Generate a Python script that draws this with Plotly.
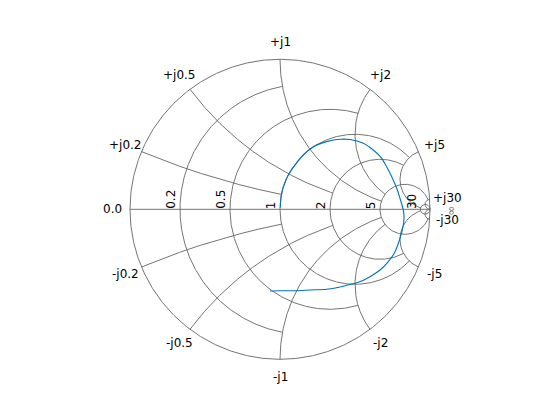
import numpy as np
import plotly.graph_objects as go

# Measured trace, as reflection coefficient (real, imaginary parts)
gamma_real = [0.002, 0.007, 0.022, 0.055, 0.100, 0.155, 0.222, 0.311, 0.400, 0.467,
              0.555, 0.622, 0.678, 0.711, 0.745, 0.778, 0.800, 0.822, 0.827, 0.818,
              0.800, 0.767, 0.722, 0.667, 0.600, 0.522, 0.467, 0.400, 0.311, 0.200,
              0.111, 0.000, -0.067]
gamma_imag = [0.012, 0.084, 0.151, 0.229, 0.295, 0.362, 0.417, 0.451, 0.467, 0.465,
              0.440, 0.395, 0.340, 0.284, 0.217, 0.140, 0.073, -0.005, -0.058, -0.127,
              -0.193, -0.283, -0.349, -0.405, -0.449, -0.487, -0.501, -0.518, -0.533, -0.538,
              -0.543, -0.543, -0.545]

# Smith chart grid values and where each circle/arc stops
grid_values = [0.2, 0.5, 1, 2, 5, 30]
grid_ends = [1, 2, 5, 5, 30, np.inf]
real_tick_labels = ["0.2", "0.5", "1", "2", "5", "30"]
pos_imag_labels = ["+j0.2", "+j0.5", "+j1", "+j2", "+j5", "+j30"]
neg_imag_labels = ["-j0.2", "-j0.5", "-j1", "-j2", "-j5", "-j30"]
zero_label = "0.0"
inf_label = "\u221e"


def z2g(z):
    return (z - 1) / (z + 1)


gx, gy = [], []


def add_seg(g):
    gx.extend(list(np.real(g)) + [None])
    gy.extend(list(np.imag(g)) + [None])


# outer circle (r = 0)
t = np.linspace(0, 2 * np.pi, 721)
add_seg(np.cos(t) + 1j * np.sin(t))
# real axis
add_seg(np.array([-1 + 0j, 1 + 0j]))

for v, e in zip(grid_values, grid_ends):
    # constant resistance circle
    ue = np.pi / 2 if np.isinf(e) else np.arctan(e)
    u = np.linspace(-ue, ue, 700)
    add_seg(z2g(v + 1j * np.tan(u)))
    # constant reactance arcs (+/-)
    u = np.linspace(0, ue, 500)
    add_seg(z2g(np.tan(u) + 1j * v))
    add_seg(z2g(np.tan(u) - 1j * v))

fig = go.Figure()
fig.add_trace(go.Scatter(x=gx, y=gy, mode="lines",
                         line=dict(color="rgb(100,100,100)", width=0.9),
                         hoverinfo="skip"))
fig.add_trace(go.Scatter(x=gamma_real, y=gamma_imag, mode="lines",
                         line=dict(color="rgb(0,114,189)", width=1.1,
                                   shape="spline", smoothing=0.7)))

font = dict(family="DejaVu Sans", size=12, color="black")
ann = []
lab_r = 1.117
for v, lp, ln in zip(grid_values, pos_imag_labels, neg_imag_labels):
    for val, txt in ((v, lp), (-v, ln)):
        g = z2g(1j * val) * lab_r
        ann.append(dict(x=g.real, y=g.imag, text=txt, showarrow=False,
                        xanchor="center", yanchor="middle", font=font))
ann.append(dict(x=-lab_r, y=0, text=zero_label, showarrow=False,
                xanchor="center", yanchor="middle", font=font))
for v, txt in zip(grid_values, real_tick_labels):
    xc = (v - 1) / (v + 1)
    ann.append(dict(x=xc, y=0, text=txt, showarrow=False, textangle=-90,
                    xanchor="right", yanchor="bottom", xshift=0, yshift=-2,
                    font=font))
ann.append(dict(x=1.14, y=-0.01, text=inf_label, showarrow=False, textangle=-90,
                xanchor="center", yanchor="middle",
                font=dict(family="DejaVu Sans", size=12, color="rgb(120,120,120)")))

# page body margin is 8 px, so the chart centre (280, 209.3) in the window
# sits at (272, 201.3) inside the figure
cx = 272.0
cy = 201.3
scale = 150.0
W, H = 560, 420
fig.update_layout(
    width=W, height=H,
    margin=dict(l=0, r=0, t=0, b=0),
    paper_bgcolor="white", plot_bgcolor="white",
    showlegend=False,
    xaxis=dict(range=[-cx / scale, (W - cx) / scale], visible=False, fixedrange=True),
    yaxis=dict(range=[-(H - cy) / scale, cy / scale], visible=False, fixedrange=True),
    annotations=ann,
)
fig.write_html("out.html")
